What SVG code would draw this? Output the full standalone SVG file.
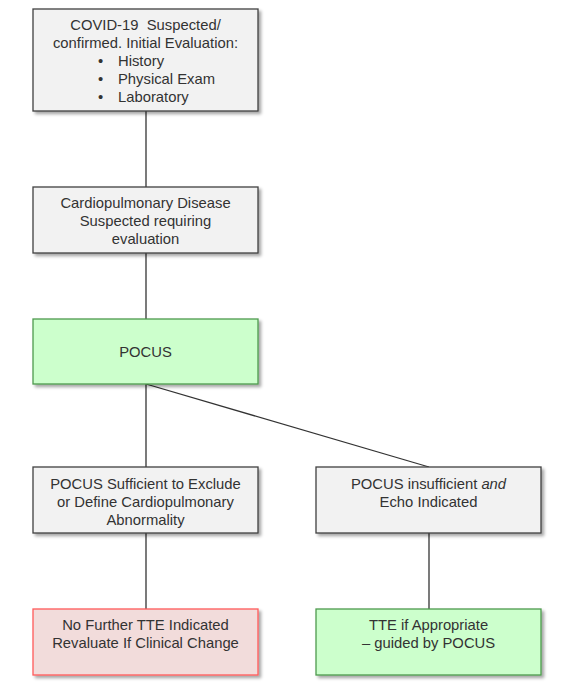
<svg xmlns="http://www.w3.org/2000/svg" width="571" height="690" viewBox="0 0 571 690">
<defs>
<filter id="sh" x="-10%" y="-10%" width="125%" height="130%">
<feDropShadow dx="2.5" dy="2.5" stdDeviation="1.8" flood-color="#000" flood-opacity="0.35"/>
</filter>
</defs>
<style>
.box{stroke-width:1.3;filter:url(#sh)}
.gray{fill:#f2f2f2;stroke:#404040}
.green{fill:#ccffcc;stroke:#4e9a4e}
.red{fill:#f2dcdb;stroke:#ff5a5a}
text{font-family:"Liberation Sans",Arial,sans-serif;font-size:14.8px;fill:#333;text-anchor:middle}
.l{text-anchor:start}
.conn line{stroke:#333;stroke-width:1.3}
</style>
<rect width="571" height="690" fill="#fff"/>
<g class="conn">
<line x1="146" y1="111" x2="146" y2="187"/>
<line x1="146" y1="253" x2="146" y2="319"/>
<line x1="146" y1="384" x2="146" y2="467"/>
<line x1="146" y1="384" x2="429" y2="467"/>
<line x1="146" y1="533" x2="146" y2="609"/>
<line x1="429" y1="533" x2="429" y2="609"/>
</g>
<g id="n1">
<rect class="box gray" x="33" y="9" width="225" height="102"/>
<text x="145.5" y="30" xml:space="preserve">COVID-19  Suspected/</text>
<text x="145.5" y="48">confirmed. Initial Evaluation:</text>
<text class="l" x="98" y="66">•</text><text class="l" x="118" y="66">History</text>
<text class="l" x="98" y="84">•</text><text class="l" x="118" y="84">Physical Exam</text>
<text class="l" x="98" y="102">•</text><text class="l" x="118" y="102">Laboratory</text>
</g>
<g id="n2">
<rect class="box gray" x="33" y="187" width="225" height="66"/>
<text x="145.5" y="208">Cardiopulmonary Disease</text>
<text x="145.5" y="226">Suspected requiring</text>
<text x="145.5" y="244">evaluation</text>
</g>
<g id="n3">
<rect class="box green" x="33" y="319" width="225" height="65"/>
<text x="145.5" y="357">POCUS</text>
</g>
<g id="n4">
<rect class="box gray" x="33" y="467" width="225" height="66"/>
<text x="145.5" y="489">POCUS Sufficient to Exclude</text>
<text x="145.5" y="507">or Define Cardiopulmonary</text>
<text x="145.5" y="525">Abnormality</text>
</g>
<g id="n5">
<rect class="box gray" x="316" y="467" width="225" height="66"/>
<text x="428.5" y="489">POCUS insufficient <tspan font-style="italic">and</tspan></text>
<text x="428.5" y="507">Echo Indicated</text>
</g>
<g id="n6">
<rect class="box red" x="33" y="609" width="225" height="66"/>
<text x="145.5" y="630">No Further TTE Indicated</text>
<text x="145.5" y="648">Revaluate If Clinical Change</text>
</g>
<g id="n7">
<rect class="box green" x="316" y="609" width="225" height="66"/>
<text x="428.5" y="630">TTE if Appropriate</text>
<text x="428.5" y="648">– guided by POCUS</text>
</g>
</svg>
